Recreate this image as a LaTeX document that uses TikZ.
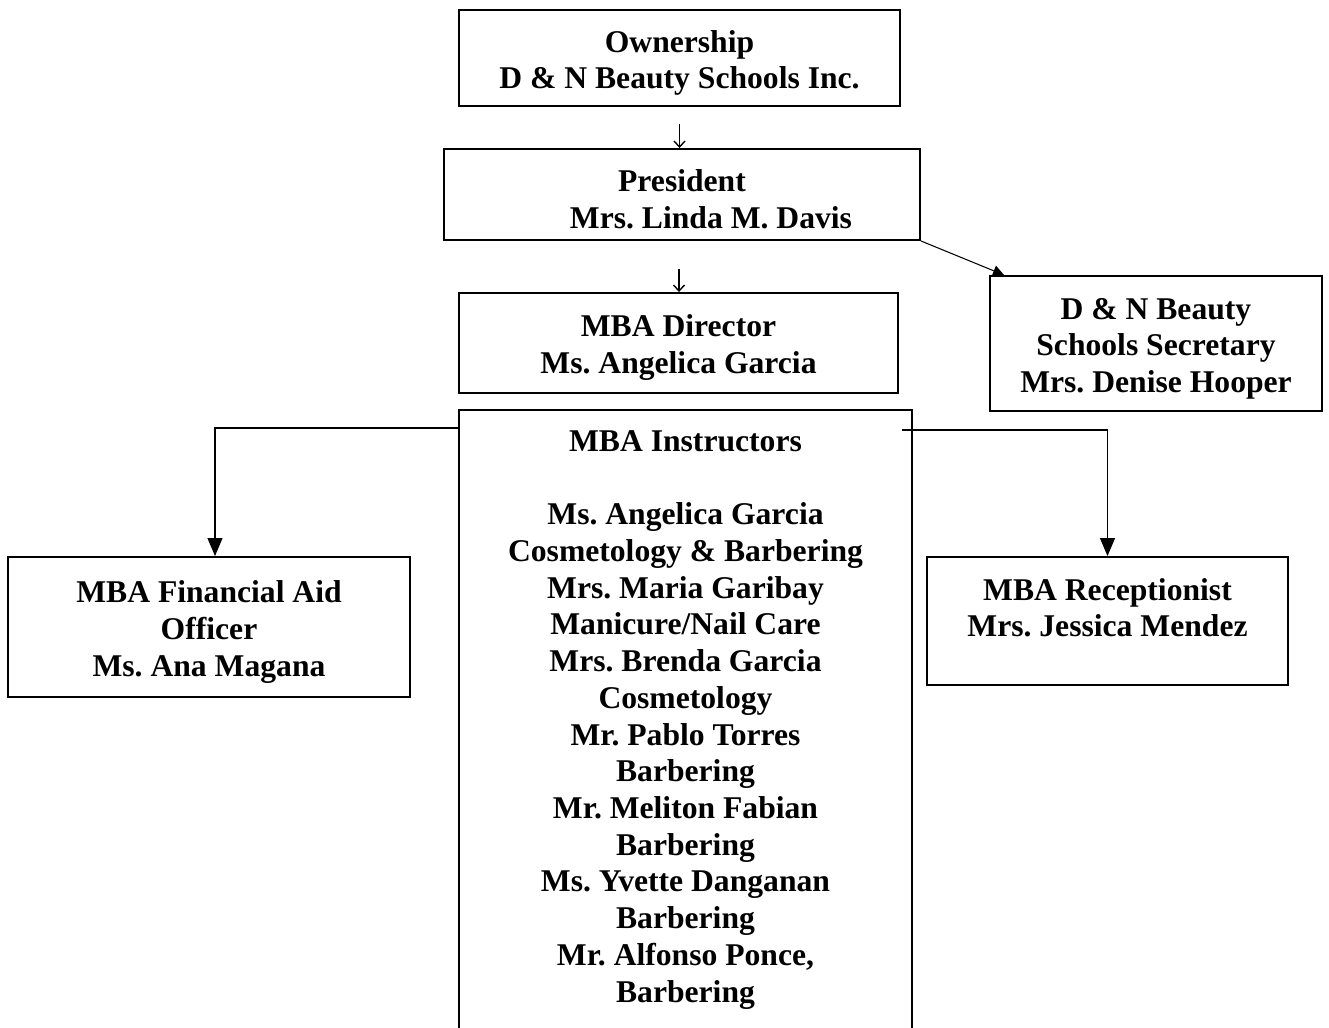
\documentclass[tikz,border=0pt]{standalone}
\usepackage{fontspec}
\setmainfont{Liberation Serif}
\usetikzlibrary{arrows.meta,positioning}
\frenchspacing
\newcommand\topgap{\rule{0pt}{18pt}}

\begin{document}
\begin{tikzpicture}[
  box/.style={draw,line width=1.1pt,align=center,inner sep=0pt},
  txt/.style={font=\bfseries\fontsize{18}{20.9}\selectfont},
  link/.style={line width=0.6pt},
  bigtip/.style={link,-{Triangle[length=0.36cm,width=0.3cm]}},
  smalltip/.style={line width=0.8pt,-{Straight Barb[length=0.12cm,width=0.22cm]}}]
\useasboundingbox (0,0) rectangle (26.58,-20.54);
\node[box,txt,minimum width=8.82cm,minimum height=1.92cm] (own) at (13.59,-1.16) {\topgap Ownership\\D \& N Beauty Schools Inc.};
\node[box,txt,minimum width=9.52cm,minimum height=1.82cm] (pres) at (13.64,-3.89) {\topgap President\\\hspace*{1.16cm}Mrs. Linda M. Davis};
\node[box,txt,minimum width=8.78cm,minimum height=2.0cm] (dir) at (13.57,-6.86) {\topgap MBA Director\\Ms. Angelica Garcia};
\node[box,txt,minimum width=6.64cm,minimum height=2.7cm] (sec) at (23.12,-6.87) {\topgap D \& N Beauty\\Schools Secretary\\Mrs. Denise Hooper};
\node[box,txt,minimum width=8.04cm,minimum height=2.8cm] (fin) at (4.18,-12.54) {\topgap MBA Financial Aid\\Officer\\Ms. Ana Magana};
\node[box,txt,minimum width=7.22cm,minimum height=2.56cm] (rec) at (22.15,-12.42) {\topgap MBA Receptionist\\Mrs. Jessica Mendez\\[0pt]\mbox{}};
% instructors: box runs off the page
\node[txt,align=center,anchor=north,minimum width=9.06cm,inner ysep=0.4cm] (instr) at (13.71,-8.2)
  {MBA Instructors\\[20.9pt]Ms. Angelica Garcia\\Cosmetology \& Barbering\\Mrs. Maria Garibay\\Manicure/Nail Care\\
   Mrs. Brenda Garcia\\Cosmetology\\Mr. Pablo Torres\\Barbering\\Mr. Meliton Fabian\\Barbering\\
   Ms. Yvette Danganan\\Barbering\\Mr. Alfonso Ponce,\\Barbering};
\draw[line width=1.1pt] ([yshift=-13cm]instr.north west) -- (instr.north west) -- (instr.north east) -- ([yshift=-13cm]instr.north east);

\coordinate (a1) at ([yshift=-0.34cm]own.south);
\draw[smalltip] (a1) -- (a1 |- pres.north);
\coordinate (a2) at ([xshift=0.01cm,yshift=0.46cm]dir.north);
\draw[smalltip] (a2) -- (a2 |- dir.north);
\draw[link,-{Triangle[length=0.22cm,width=0.22cm]}] (pres.south east) -- ([xshift=0.3cm]sec.north west);
\draw[bigtip] ([yshift=-0.36cm]instr.north west) -| ([xshift=0.12cm]fin.north);
\draw[bigtip] ([xshift=-0.2cm,yshift=-0.4cm]instr.north east) -| (rec.north);
\end{tikzpicture}
\end{document}
